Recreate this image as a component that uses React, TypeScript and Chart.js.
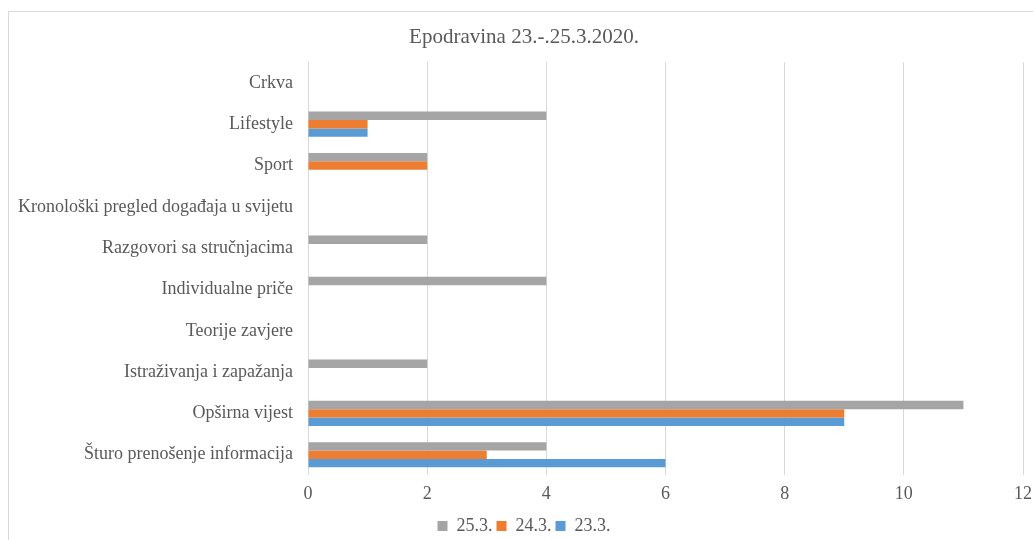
import React, { useEffect, useRef } from "react";
import { Chart, registerables } from "chart.js";

Chart.register(...registerables);

const categories = [
  "Crkva",
  "Lifestyle",
  "Sport",
  "Kronološki pregled događaja u svijetu",
  "Razgovori sa stručnjacima",
  "Individualne priče",
  "Teorije zavjere",
  "Istraživanja i zapažanja",
  "Opširna vijest",
  "Šturo prenošenje informacija",
];

const series253 = [0, 4, 2, 0, 2, 4, 0, 2, 11, 4];
const series243 = [0, 1, 2, 0, 0, 0, 0, 0, 9, 3];
const series233 = [0, 1, 0, 0, 0, 0, 0, 0, 9, 6];

const seriesLabels = ["25.3.", "24.3.", "23.3."];
const seriesColors = ["#A5A5A5", "#ED7D31", "#5B9BD5"];
const xTicks = [0, 2, 4, 6, 8, 10, 12];

const FONT = "'Liberation Serif', 'Times New Roman', serif";
const TEXT = "#595959";

export default function App() {
  const ref = useRef<HTMLCanvasElement | null>(null);

  useEffect(() => {
    document.documentElement.style.overflow = "hidden";
    document.body.style.overflow = "hidden";
    if (!ref.current) return;
    const chart = new Chart(ref.current, {
      type: "bar",
      data: {
        labels: categories,
        datasets: [series253, series243, series233].map((d, i) => ({
          label: seriesLabels[i],
          data: d,
          backgroundColor: seriesColors[i],
          borderWidth: 0,
          categoryPercentage: 0.61,
          barPercentage: 1,
        })),
      },
      options: {
        indexAxis: "y",
        animation: false,
        responsive: false,
        devicePixelRatio: 1,
        layout: { padding: { top: 0, right: 20, bottom: -5, left: 25 } },
        plugins: {
          title: {
            display: true,
            text: "Epodravina 23.-.25.3.2020.",
            color: TEXT,
            font: { family: FONT, size: 21, weight: "normal" },
            padding: { top: 25, bottom: 12 },
          },
          legend: {
            position: "bottom",
            labels: {
              color: TEXT,
              font: { family: FONT, size: 18 },
              boxWidth: 10,
              boxHeight: 10,
              padding: 4,
            },
          },
          tooltip: { enabled: false },
        },
        scales: {
          x: {
            min: 0,
            max: 12,
            afterBuildTicks: (scale: any) => {
              scale.ticks = xTicks.map((v) => ({ value: v }));
            },
            grid: { color: "#D9D9D9", lineWidth: 1, drawTicks: false },
            border: { display: false },
            ticks: {
              color: TEXT,
              font: { family: FONT, size: 18 },
              padding: 8,
            },
          },
          y: {
            grid: { display: false, drawTicks: false },
            border: { display: false },
            afterFit: (scale: any) => {
              scale.width = 283;
              scale._computeLabelArea = () => ({
                top: 0,
                left: 0,
                bottom: scale.chart.height,
                right: scale.right,
              });
            },
            ticks: {
              color: TEXT,
              font: { family: FONT, size: 18 },
              padding: 15,
            },
          },
        },
      },
    });
    return () => chart.destroy();
  }, []);

  return (
    <div style={{ position: "fixed", left: 0, top: 0, width: 1033, height: 540, overflow: "hidden" }}>
      <div
        style={{
          position: "absolute",
          left: 8,
          top: 11,
          width: 1040,
          height: 600,
          border: "1px solid #D9D9D9",
          boxSizing: "border-box",
        }}
      />
      <canvas
        ref={ref}
        width={1043}
        height={540}
        style={{ position: "absolute", left: 0, top: 0, width: 1043, height: 540 }}
      />
    </div>
  );
}
